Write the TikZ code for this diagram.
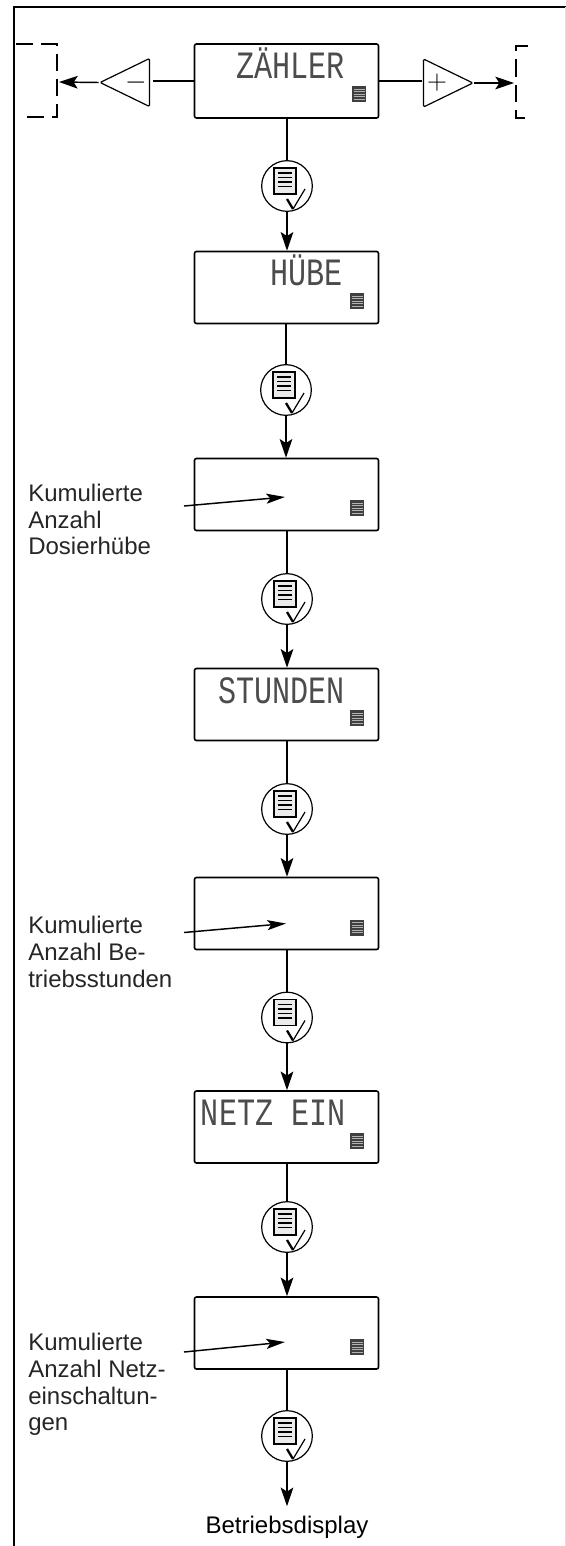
\documentclass[tikz,border=0pt]{standalone}
\usepackage{fontspec}
\setmainfont{Liberation Sans}
\newfontfamily\lcdfont[FakeStretch=0.78]{Liberation Mono}
\usetikzlibrary{arrows.meta,shapes.geometric}
\tikzset{
  dispbox/.style={draw, line width=1.2pt, rounded corners=1.5pt, minimum width=138pt, minimum height=54pt, inner sep=0pt},
  okkey/.style={draw, circle, line width=0.9pt, minimum size=38pt, inner sep=0pt},
  stepkey/.style={draw, isosceles triangle, isosceles triangle stretches, line width=0.9pt, rounded corners=1pt, minimum width=36pt, minimum height=37pt, inner sep=0pt, font=\fontsize{20}{20}\selectfont},
  lcdtext/.style={anchor=base east, inner sep=0pt, text=black!70, font=\fontsize{29}{29}\lcdfont},
  notetext/.style={anchor=north west, align=left, inner sep=0pt, text=black!85, font=\fontsize{18}{20}\selectfont},
  flow/.style={line width=1.1pt},
  flowarrow/.style={line width=1.1pt, -{Stealth[length=14pt,width=9.5pt,inset=3pt]}},
  notearrow/.style={line width=1.1pt, -{Stealth[length=14pt,width=7.5pt,inset=3pt]}},
  bracket/.style={line width=1.3pt, dash pattern=on 13pt off 6pt},
  listicon/.pic={
    \fill[black!75] (-7,-8) rectangle (7,8);
    \foreach \ly in {-5,-2.5,0,2.5,5}
      \draw[black!30, line width=0.3pt] (-5.5,\ly) -- (5.5,\ly);
  },
  checkicon/.pic={
    \draw[line width=0.9pt, fill=black!8] (-13,-18) rectangle (9,8);
    \foreach \ly in {-13,-8.5,-4,0.5}
      \draw[line width=0.9pt] (-9,\ly) -- (5,\ly);
    \draw[line width=1.7pt] (0,13) -- (6,23);
    \draw[line width=0.9pt] (6,23) -- (18,3);
  }
}
\begin{document}
\begin{tikzpicture}[x=0.75pt, y=-0.75pt]
    \useasboundingbox (0,0) rectangle (566,1546);

    % --- 1. frame ---
    \draw[line width=1.2pt] (14,1546) -- (14,7) -- (566,7);
    \draw[black!12, line width=0.5pt] (565,7) -- (565,1546);

    % --- 2. top row ---
    \node[dispbox, minimum height=55.5pt] (zaehler) at (286.5,81) {};
    \node[lcdtext] at (345,78) {ZÄHLER};
    \pic at (359,94) {listicon};
    \node[stepkey, shape border rotate=180] (minuskey) at (136,82.5) {$-$};
    \node[stepkey] (pluskey) at (437,83) {$+$};
    \draw[bracket] (16,44) -- (57,44) -- (57,117) -- (22,117);
    \draw[bracket] (528,46) -- (516,46) -- (516,118) -- (528,118);
    \coordinate (leftend) at (59,82);
    \coordinate (rightend) at (514,83);
    \coordinate (minusgap) at (153,81);
    \coordinate (plusgap) at (422,81);
    \draw[flow] (zaehler.west |- minusgap) -- (minusgap);
    \draw[flow] (zaehler.east |- plusgap) -- (plusgap);
    \draw[flowarrow] (minuskey.apex) -- (leftend);
    \draw[flowarrow] (pluskey.apex) -- (rightend);

    % --- 3. displays ---
    \node[dispbox] (huebe) at (286.5,287.5) {};
    \node[lcdtext] at (343,285) {HÜBE};
    \pic at (357,301) {listicon};

    \node[dispbox] (huebezahl) at (286.5,494.5) {};
    \pic at (357,508) {listicon};

    \node[dispbox] (stunden) at (286.5,704.5) {};
    \node[lcdtext] at (345,703) {STUNDEN};
    \pic at (357,718) {listicon};

    \node[dispbox] (stundenzahl) at (286.5,913.5) {};
    \pic at (357,927.5) {listicon};

    \node[dispbox] (netz) at (286.5,1127) {};
    \node[lcdtext] at (346,1125) {NETZ EIN};
    \pic at (357,1141) {listicon};

    \node[dispbox] (netzzahl) at (286.5,1333) {};
    \pic at (357,1347) {listicon};

    % --- 4. ok keys ---
    \node[okkey] (oka) at (287,186) {};
    \node[okkey] (okb) at (286,390) {};
    \node[okkey] (okc) at (287,599) {};
    \node[okkey] (okd) at (287,809) {};
    \node[okkey] (oke) at (287,1017.5) {};
    \node[okkey] (okf) at (287,1227) {};
    \node[okkey] (okg) at (287,1436) {};
    \pic at (oka) {checkicon};
    \pic at (okb) {checkicon};
    \pic at (okc) {checkicon};
    \pic at (okd) {checkicon};
    \pic at (oke) {checkicon};
    \pic at (okf) {checkicon};
    \pic at (okg) {checkicon};

    % --- 5. connectors ---
    \draw[flow] (zaehler.south -| oka) -- (oka);
    \draw[flowarrow] (oka) -- (huebe.north -| oka);
    \draw[flow] (huebe.south -| okb) -- (okb);
    \draw[flowarrow] (okb) -- (huebezahl.north -| okb);
    \draw[flow] (huebezahl.south -| okc) -- (okc);
    \draw[flowarrow] (okc) -- (stunden.north -| okc);
    \draw[flow] (stunden.south -| okd) -- (okd);
    \draw[flowarrow] (okd) -- (stundenzahl.north -| okd);
    \draw[flow] (stundenzahl.south -| oke) -- (oke);
    \draw[flowarrow] (oke) -- (netz.north -| oke);
    \draw[flow] (netz.south -| okf) -- (okf);
    \draw[flowarrow] (okf) -- (netzzahl.north -| okf);
    \draw[flow] (netzzahl.south -| okg) -- (okg);

    % --- 6. labels ---
    \node[notetext] (notea) at (28,484) {Kumulierte\\Anzahl\\Dosierhübe};
    \node[notetext] (noteb) at (28,916) {Kumulierte\\Anzahl Be-\\triebsstunden};
    \node[notetext] (notec) at (28,1333) {Kumulierte\\Anzahl Netz-\\einschaltun-\\gen};
    \coordinate (notestarta) at (184,506);
    \coordinate (noteenda) at (285,497);
    \coordinate (notestartb) at (184,932.5);
    \coordinate (noteendb) at (286,923.5);
    \coordinate (notestartc) at (184,1352);
    \coordinate (noteendc) at (285,1342);
    \draw[notearrow] (notestarta) -- (noteenda);
    \draw[notearrow] (notestartb) -- (noteendb);
    \draw[notearrow] (notestartc) -- (noteendc);

    % --- 7. exit ---
    \node[notetext, anchor=center, text=black] (exit) at (287,1527) {Betriebsdisplay};
    \draw[flowarrow, shorten >=7pt] (okg) -- (exit);

\end{tikzpicture}
\end{document}
